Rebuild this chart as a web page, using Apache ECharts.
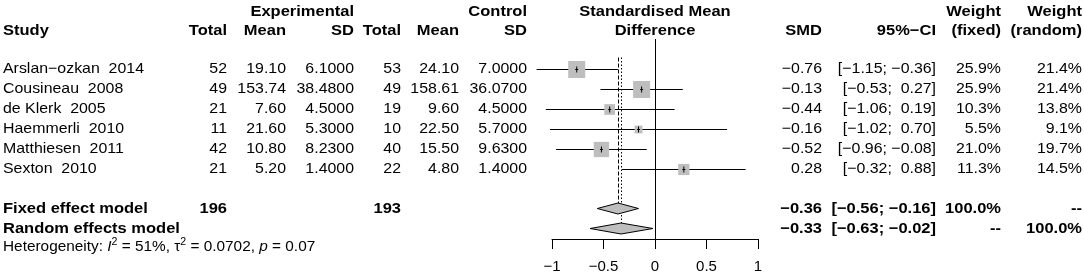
<!DOCTYPE html>
<html>
<head>
<meta charset="utf-8">
<script src="https://cdn.jsdelivr.net/npm/echarts@6/dist/echarts.min.js"></script>
<style>
  html, body { margin: 0; padding: 0; background: #fff; }
  #chart { width: 1084px; height: 278px; }
</style>
</head>
<body>
<div id="chart"></div>
<script>
// study data
const studies = ['Arslan\u2212ozkan  2014', 'Cousineau  2008', 'de Klerk  2005', 'Haemmerli  2010', 'Matthiesen  2011', 'Sexton  2010'];
const expTotal = [52, 49, 21, 11, 42, 21];
const expMean = [19.10, 153.74, 7.60, 21.60, 10.80, 5.20];
const expSD = [6.1, 38.48, 4.5, 5.3, 8.23, 1.4];
const ctrlTotal = [53, 49, 19, 10, 40, 22];
const ctrlMean = [24.10, 158.61, 9.60, 22.50, 15.50, 4.80];
const ctrlSD = [7.0, 36.07, 4.5, 5.7, 9.63, 1.4];
const smd = [-0.76, -0.13, -0.44, -0.16, -0.52, 0.28];
const ciLow = [-1.15, -0.53, -1.06, -1.02, -0.96, -0.32];
const ciHigh = [-0.36, 0.27, 0.19, 0.70, -0.08, 0.88];
const wFixed = [25.9, 25.9, 10.3, 5.5, 21.0, 11.3];
const wRandom = [21.4, 21.4, 13.8, 9.1, 19.7, 14.5];

// pooled estimates
const modelNames = ['Fixed effect model', 'Random effects model'];
const modelTotalsExp = [196, null];
const modelTotalsCtrl = [193, null];
const modelEst = [-0.36, -0.33];
const modelLow = [-0.56, -0.63];
const modelHigh = [-0.16, -0.02];
const modelWFixed = [100.0, null];
const modelWRandom = [null, 100.0];
const hetText = ['51%', '0.0702', '0.07']; // I2, tau2, p

const xTicks = [-1, -0.5, 0, 0.5, 1];

const chart = echarts.init(document.getElementById('chart'));

const FONT = '"Liberation Sans", Arial, sans-serif';
const FS = 15;
const SX = 1.06;
const SXB = 1.1;
const MINUS = '\u2212';

function num(v, d) {
  return (v < 0 ? MINUS : '') + Math.abs(v).toFixed(d);
}
function pad(v, d) {
  return (v < 0 ? MINUS : ' ') + Math.abs(v).toFixed(d);
}
function ci(lo, hi) {
  return '[' + num(lo, 2) + '; ' + pad(hi, 2) + ']';
}
function pct(v) {
  return v == null ? '--' : v.toFixed(1) + '%';
}

// column anchors (pixels)
const COL = {
  study: 3, eTot: 227, eMean: 286, eSD: 354, cTot: 401, cMean: 459, cSD: 527,
  mid: 655, smd: 822, ci: 936, wf: 1001, wr: 1082
};

const STUDY_ROWS = studies.map((s, i) => i + 1);
const MODEL_ROWS = [8, 9];

// text table rows
const tableRows = [];
tableRows.push({ row: -1.83, bold: true, cells: [
  ['Experimental', COL.eSD, 'right'], ['Control', COL.cSD, 'right'],
  ['Standardised Mean', COL.mid, 'center'], ['Weight', COL.wf, 'right'], ['Weight', COL.wr, 'right']
]});
tableRows.push({ row: -0.875, bold: true, cells: [
  ['Study', COL.study, 'left'], ['Total', COL.eTot, 'right'], ['Mean', COL.eMean, 'right'], ['SD', COL.eSD, 'right'],
  ['Total', COL.cTot, 'right'], ['Mean', COL.cMean, 'right'], ['SD', COL.cSD, 'right'],
  ['Difference', COL.mid, 'center'], ['SMD', COL.smd, 'right'], ['95%' + MINUS + 'CI', COL.ci, 'right'],
  ['(fixed)', COL.wf, 'right'], ['(random)', COL.wr, 'right']
]});
studies.forEach((s, i) => {
  tableRows.push({ row: STUDY_ROWS[i], bold: false, cells: [
    [s, COL.study, 'left'], [String(expTotal[i]), COL.eTot, 'right'], [expMean[i].toFixed(2), COL.eMean, 'right'],
    [expSD[i].toFixed(4), COL.eSD, 'right'], [String(ctrlTotal[i]), COL.cTot, 'right'],
    [ctrlMean[i].toFixed(2), COL.cMean, 'right'], [ctrlSD[i].toFixed(4), COL.cSD, 'right'],
    [num(smd[i], 2), COL.smd, 'right'], [ci(ciLow[i], ciHigh[i]), COL.ci, 'right'],
    [pct(wFixed[i]), COL.wf, 'right'], [pct(wRandom[i]), COL.wr, 'right']
  ]});
});
modelNames.forEach((m, i) => {
  const cells = [[m, COL.study, 'left']];
  if (modelTotalsExp[i] != null) cells.push([String(modelTotalsExp[i]), COL.eTot, 'right']);
  if (modelTotalsCtrl[i] != null) cells.push([String(modelTotalsCtrl[i]), COL.cTot, 'right']);
  cells.push([num(modelEst[i], 2), COL.smd, 'right'], [ci(modelLow[i], modelHigh[i]), COL.ci, 'right'],
    [pct(modelWFixed[i]), COL.wf, 'right'], [pct(modelWRandom[i]), COL.wr, 'right']);
  tableRows.push({ row: MODEL_ROWS[i], bold: true, cells: cells });
});

function tableItem(params, api) {
  const r = tableRows[params.dataIndex];
  const y = api.coord([0, r.row])[1];
  return {
    type: 'group',
    children: r.cells.map(c => ({
      type: 'text', x: c[1], y: y, scaleX: r.bold ? SXB : SX,
      style: {
        text: c[0], fill: '#000', align: c[2], verticalAlign: 'middle',
        font: (r.bold ? 'bold ' : '') + FS + 'px ' + FONT
      }
    }))
  };
}

function hetItem(params, api) {
  const y = api.coord([0, 9.93])[1];
  return {
    type: 'text', x: COL.study, y: y, scaleX: SX,
    style: {
      text: '{a|Heterogeneity: }{i|I}{s|2}{a| = ' + hetText[0] + ', \u03c4}{s|2}{a| = ' + hetText[1] + ', }{i|p}{a| = ' + hetText[2] + '}',
      align: 'left', verticalAlign: 'middle', fill: '#000',
      rich: {
        a: { fontSize: 14.5, fontFamily: FONT, lineHeight: 20, fill: '#000' },
        i: { fontSize: 14.5, fontFamily: FONT, fontStyle: 'italic', lineHeight: 20, fill: '#000' },
        s: { fontSize: 10, fontFamily: FONT, verticalAlign: 'top', fill: '#000' }
      }
    }
  };
}

function studyItem(params, api) {
  const est = api.value(0), lo = api.value(1), hi = api.value(2), row = api.value(3), w = api.value(4);
  const y = Math.round(api.coord([0, row])[1]) + 0.5;
  const xe = api.coord([est, row])[0];
  const xl = api.coord([lo, row])[0];
  const xh = api.coord([hi, row])[0];
  const s = 3.34 * Math.sqrt(w);
  return {
    type: 'group',
    children: [
      { type: 'line', shape: { x1: xl, y1: y, x2: xh, y2: y }, style: { stroke: '#000', lineWidth: 1 } },
      { type: 'rect', shape: { x: xe - s / 2, y: y - s / 2, width: s, height: s }, style: { fill: '#bebebe' } },
      { type: 'line', shape: { x1: xe, y1: y - 3, x2: xe, y2: y + 3 }, style: { stroke: '#000', lineWidth: 1 } },
      { type: 'line', shape: { x1: xe - 1.5, y1: y, x2: xe + 1.5, y2: y }, style: { stroke: '#000', lineWidth: 1 } }
    ]
  };
}

function diamondItem(params, api) {
  const est = api.value(0), lo = api.value(1), hi = api.value(2), row = api.value(3);
  const y = api.coord([0, row])[1];
  const xe = api.coord([est, row])[0];
  const xl = api.coord([lo, row])[0];
  const xh = api.coord([hi, row])[0];
  const h = 5.5;
  return {
    type: 'polygon',
    shape: { points: [[xl, y], [xe, y - h], [xh, y], [xe, y + h]] },
    style: { fill: '#bebebe', stroke: '#000', lineWidth: 1 }
  };
}

function refItem(params, api) {
  const x = Math.round(api.coord([api.value(0), 0])[0]) + 0.5;
  const y1 = api.coord([0, api.value(1)])[1];
  const y2 = api.coord([0, api.value(2)])[1];
  const dash = params.dataIndex === 0 ? [4, 2] : [1.5, 2];
  return {
    type: 'line', shape: { x1: x, y1: y1, x2: x, y2: y2 },
    style: { stroke: '#000', lineWidth: 1, lineDash: dash }
  };
}

const option = {
  animation: false,
  backgroundColor: '#fff',
  grid: { left: 552, width: 206, top: 39, height: 200 },
  xAxis: {
    type: 'value', position: 'bottom', min: xTicks[0], max: xTicks[xTicks.length - 1], interval: 0.5,
    splitLine: { show: false },
    axisLine: { show: true, onZero: false, lineStyle: { color: '#000', width: 1 } },
    axisTick: { show: true, length: 10, lineStyle: { color: '#000' } },
    axisLabel: {
      color: '#000', fontSize: 15, fontFamily: FONT, margin: 20,
      formatter: v => String(v).replace('-', MINUS)
    }
  },
  yAxis: { type: 'value', min: -0.475, max: 9.525, inverse: true, show: false },
  series: [
    {
      type: 'custom', renderItem: refItem, silent: true, z: 1,
      data: [
        [modelEst[0], 0.45, MODEL_ROWS[0] - 0.25],
        [modelEst[1], 0.45, MODEL_ROWS[1] - 0.25]
      ],
      markLine: {
        symbol: 'none', silent: true, label: { show: false },
        lineStyle: { color: '#000', type: 'solid', width: 1 },
        data: [{ xAxis: 0 }]
      }
    },
    {
      type: 'custom', renderItem: studyItem, silent: true, z: 2,
      data: smd.map((v, i) => [v, ciLow[i], ciHigh[i], STUDY_ROWS[i], wFixed[i]])
    },
    {
      type: 'custom', renderItem: diamondItem, silent: true, z: 3,
      data: modelEst.map((v, i) => [v, modelLow[i], modelHigh[i], MODEL_ROWS[i]])
    },
    {
      type: 'custom', renderItem: tableItem, silent: true, z: 4,
      data: tableRows.map((r, i) => [0, r.row])
    },
    {
      type: 'custom', renderItem: hetItem, silent: true, z: 4,
      data: [[0, 9.93]]
    }
  ]
};

chart.setOption(option);
</script>
</body>
</html>
